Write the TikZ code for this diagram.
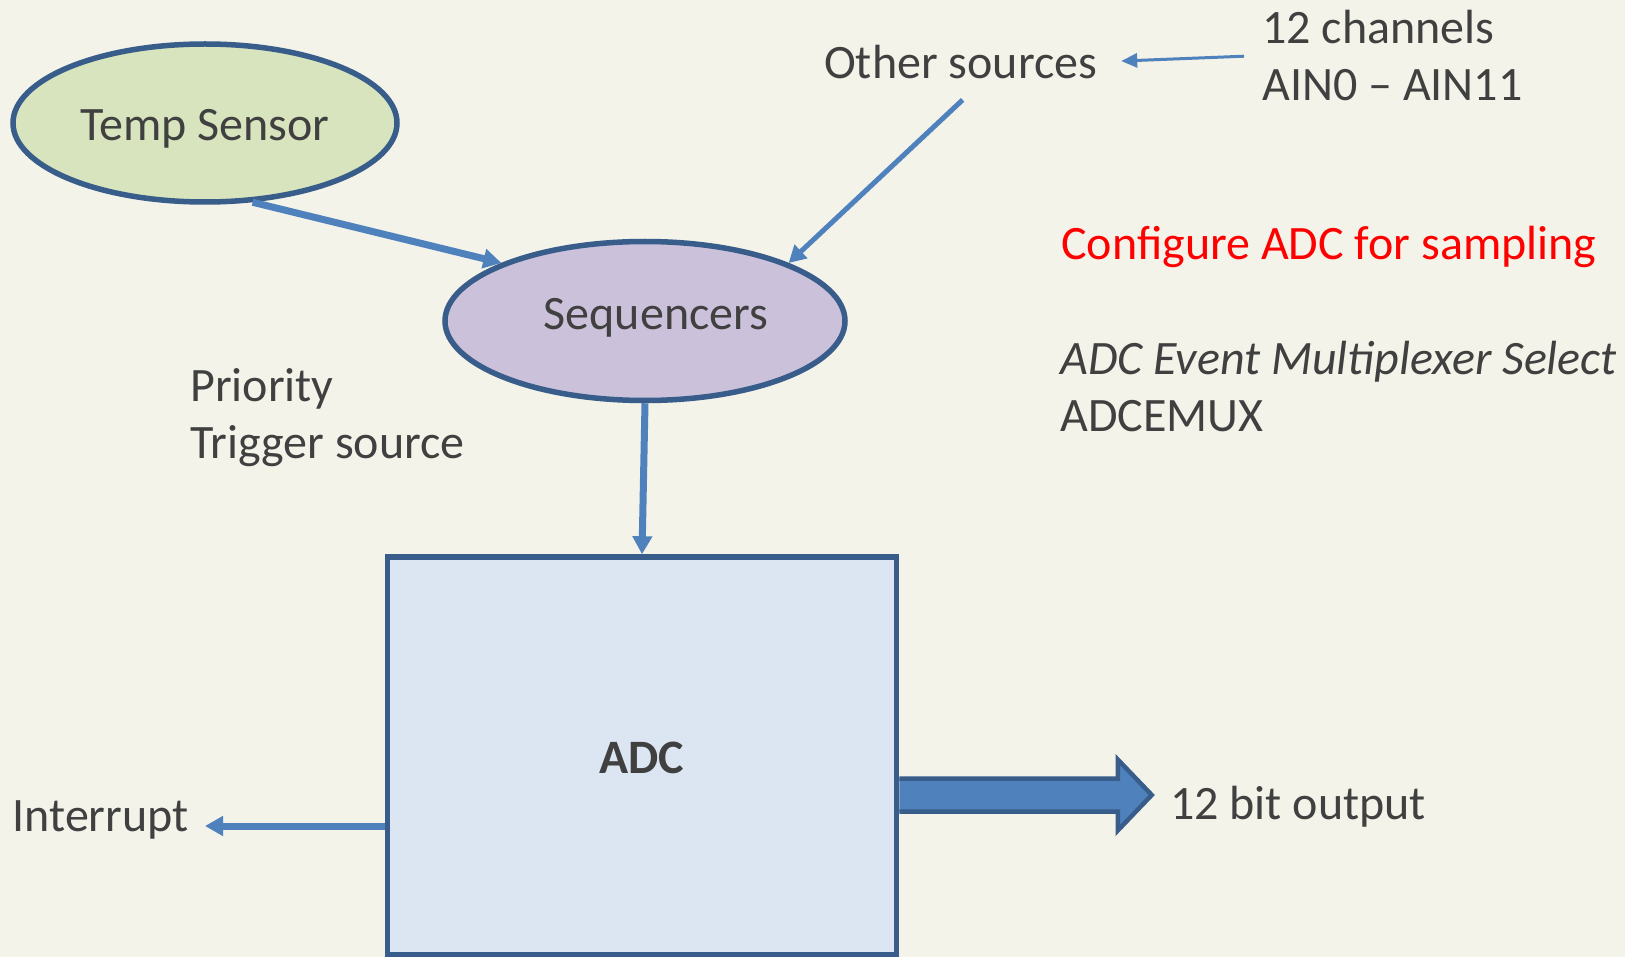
\documentclass[tikz,border=0pt]{standalone}
\usepackage{fontspec}
\setmainfont{Carlito}
\usetikzlibrary{arrows.meta,shapes.geometric}
\definecolor{bg}{RGB}{243,243,233}
\definecolor{txt}{RGB}{64,64,64}
\definecolor{ablue}{RGB}{79,129,189}
\definecolor{bblue}{RGB}{56,93,138}
\definecolor{tgreen}{RGB}{215,228,189}
\definecolor{tpurple}{RGB}{204,193,218}
\definecolor{tadc}{RGB}{220,230,242}
\begin{document}
\begin{tikzpicture}[x=1pt,y=-1pt,
  every node/.style={font=\fontsize{48}{57}\selectfont, text=txt, text depth=0pt},
  oval/.style={ellipse, draw=bblue, line width=5.5pt, inner sep=0pt},
  conn/.style={draw=ablue, -{Triangle[length=18pt,width=19pt]}},
  lbl/.style={anchor=west, align=left, inner sep=0pt},
  bigarr/.style={fill=ablue, draw=bblue, line width=4.5pt, line join=miter}]
\fill[bg] (0,0) rectangle (1625,957);
\useasboundingbox (0,0) rectangle (1625,957);
% shapes
\node[oval, fill=tgreen, minimum width=384pt, minimum height=158pt] (temp) at (205,123) {};
\node (templbl) at ([yshift=-2pt]temp.center) {Temp Sensor};
\node[oval, fill=tpurple, minimum width=400pt, minimum height=159pt] (seq) at (645,321) {};
\node (seqlbl) at ([xshift=11pt,yshift=7pt]seq.center) {Sequencers};
\node[draw=bblue, fill=tadc, line width=5.5pt, minimum width=509pt, minimum height=398pt, inner sep=0pt] (adc) at (642,756) {};
\node[font=\fontsize{48}{57}\selectfont\bfseries] (adclbl) at ([yshift=-2pt]adc.center) {ADC};
% labels
\node[lbl] (other) at (824,62) {Other sources};
\node[lbl] (chan) at (1262,55.5) {12 channels\\AIN0 -- AIN11};
\node[lbl, text=red] (cfg) at (1061,242.5) {Configure ADC for sampling};
\node[lbl] (emux) at (1060,386.6) {\textit{ADC Event Multiplexer Select}\\ADCEMUX};
\node[lbl] (prio) at (190,413.5) {Priority\\Trigger source};
\node[lbl] (intr) at (12.4,815.6) {Interrupt};
\node[lbl] (out) at (1170,803) {12 bit output};
% connectors
\draw[conn, line width=7pt] (temp.-59) -- (seq.158);
\draw[conn, line width=5pt, -{Triangle[length=17pt,width=18pt]}] ([xshift=2pt,yshift=-21pt]other.south) -- (seq.22);
\draw[conn, line width=3pt, -{Triangle[length=16pt,width=14pt]}, shorten <=18pt, shorten >=24pt] (chan.west) -- (other.east);
\draw[conn, line width=7pt] (seq.south) -- (adc.north);
\coordinate (itip) at (205,826);
\draw[conn, line width=7pt] (adc.west |- itip) -- (itip);
% big output arrow
\coordinate (outy) at (0,795);
\coordinate (bs) at (adc.east |- outy);
\draw[bigarr] ([yshift=16.5pt]bs) -- ++(218.5,0) -- ++(0,-19) -- ++(34,35.5) -- ++(-34,35.5) -- ++(0,-19) -- ++(-218.5,0);
\end{tikzpicture}
\end{document}
